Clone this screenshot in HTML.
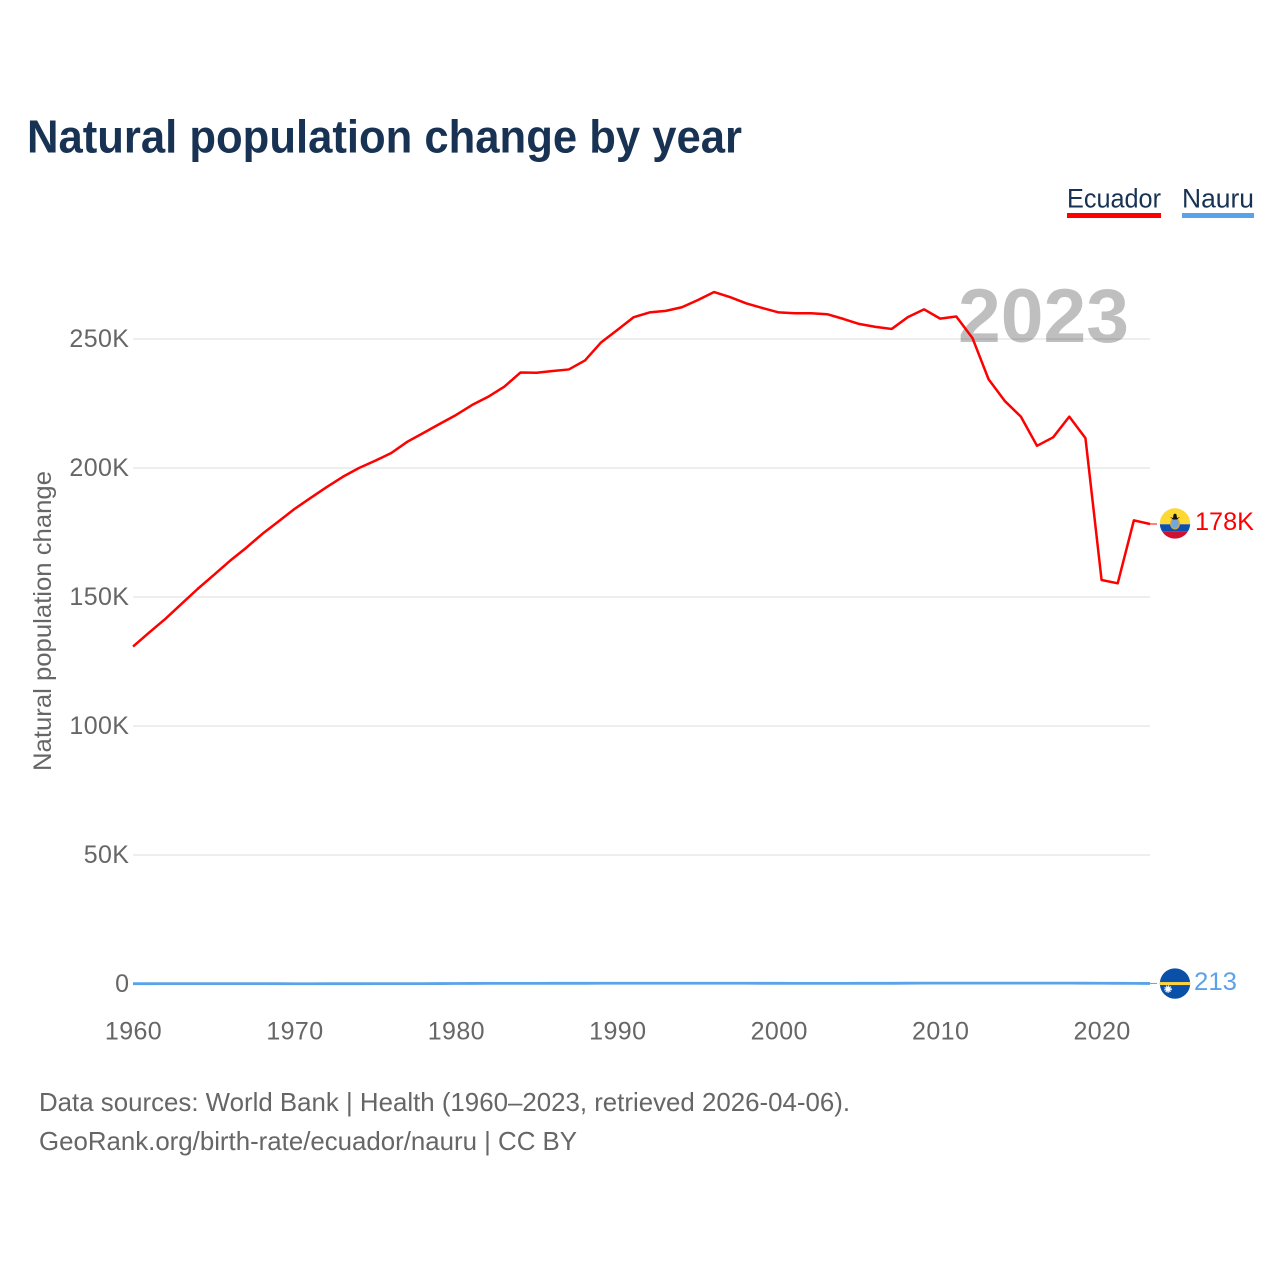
<!DOCTYPE html>
<html lang="en">
<head>
<meta charset="utf-8">
<title>Natural population change by year</title>
<style>
html,body{margin:0;padding:0;background:#fff;}
svg{display:block;font-family:"Liberation Sans",Arial,sans-serif;}
.tick{font-size:25px;fill:#666;letter-spacing:.4px;}
.foot{font-size:26px;fill:#666;}
</style>
</head>
<body>
<svg id="chart" width="1280" height="1280" viewBox="0 0 1280 1280" xmlns="http://www.w3.org/2000/svg">
  <rect width="1280" height="1280" fill="#fff"/>
  <text x="27" y="152.6" font-size="46" font-weight="700" fill="#173253" textLength="715" lengthAdjust="spacingAndGlyphs">Natural population change by year</text>

  <g>
    <text x="1067" y="207.6" font-size="27" fill="#173253" textLength="94" lengthAdjust="spacingAndGlyphs">Ecuador</text>
    <rect x="1067" y="213" width="94" height="5" fill="#ff0000"/>
  </g>
  <g>
    <text x="1182" y="207.6" font-size="27" fill="#173253" textLength="72" lengthAdjust="spacingAndGlyphs">Nauru</text>
    <rect x="1182" y="213" width="72" height="5" fill="#5ba3e8"/>
  </g>

  <g id="grid"></g>
  <text x="958" y="342" font-size="76" font-weight="700" fill="rgba(0,0,0,.25)" textLength="171" lengthAdjust="spacingAndGlyphs">2023</text>
  <g id="yticks"></g>
  <g id="xticks"></g>
  <text transform="translate(51,621) rotate(-90)" text-anchor="middle" font-size="25" fill="#666" textLength="300" lengthAdjust="spacingAndGlyphs">Natural population change</text>
  <g id="series"></g>

  <defs>
    <clipPath id="flag-clip"><circle cx="0" cy="0" r="15.2"/></clipPath>
  </defs>
  <g id="flag-ecuador" clip-path="url(#flag-clip)">
    <rect x="-16" y="-16" width="32" height="16.8" fill="#fdd835"/>
    <rect x="-16" y="0.8" width="32" height="7" fill="#0a4fb0"/>
    <rect x="-16" y="7.8" width="32" height="9" fill="#d01030"/>
    <ellipse cx="0" cy="0" rx="5" ry="6" fill="#d9a93a"/>
    <ellipse cx="0" cy="0" rx="3.6" ry="5" fill="#6fa8e0"/>
    <polygon points="-5,-6.5 -2,-5.5 -1.5,-9 0,-10 1.5,-9 2,-5.5 5,-6.5 2,-4 -2,-4" fill="#111"/>
  </g>
  <g id="flag-nauru" clip-path="url(#flag-clip)">
    <rect x="-16" y="-16" width="32" height="32" fill="#0a4fa8"/>
    <rect x="-16" y="-1.5" width="32" height="3" fill="#ffd23f"/>
    <circle cx="-7" cy="5.5" r="2.6" fill="#fff"/>
    <circle cx="-7" cy="5.5" r="3.2" fill="none" stroke="#fff" stroke-width="1.2" stroke-dasharray="1.2 0.9"/>
  </g>

  <text class="foot" x="39" y="1111" textLength="811" lengthAdjust="spacingAndGlyphs">Data sources: World Bank | Health (1960–2023, retrieved 2026-04-06).</text>
  <text class="foot" x="39" y="1150" textLength="538" lengthAdjust="spacingAndGlyphs">GeoRank.org/birth-rate/ecuador/nauru | CC BY</text>
</svg>
<script>
const startYear = 1960;
const ecuadorValues = [130.8,136.2,141.5,147.3,153.1,158.5,164.0,169.0,174.4,179.2,
  184.1,188.4,192.6,196.6,200.0,202.8,205.8,210.2,213.6,217.1,
  220.5,224.4,227.6,231.5,237.0,236.9,237.6,238.2,241.7,248.7,
  253.5,258.4,260.3,260.9,262.3,265.1,268.2,266.2,263.8,262.0,
  260.3,260.0,260.0,259.6,257.8,255.8,254.7,253.9,258.5,261.5,
  257.9,258.7,250.4,234.4,226.0,219.9,208.6,211.9,219.9,211.6,
  156.6,155.3,179.7,178.3];
const nauruValues = [0.12,0.12,0.13,0.13,0.14,0.15,0.15,0.15,0.14,0.12,
  0.11,0.11,0.12,0.12,0.12,0.13,0.13,0.13,0.14,0.17,
  0.2,0.22,0.23,0.24,0.25,0.25,0.26,0.26,0.27,0.28,
  0.29,0.3,0.3,0.3,0.3,0.3,0.29,0.29,0.28,0.27,
  0.26,0.25,0.25,0.25,0.25,0.26,0.26,0.27,0.31,0.33,
  0.34,0.34,0.35,0.35,0.35,0.35,0.34,0.34,0.33,0.32,
  0.3,0.26,0.23,0.213];
const yTickValues = [0,50,100,150,200,250];
const yTickLabels = ['0','50K','100K','150K','200K','250K'];
const xTickYears = [1960,1970,1980,1990,2000,2010,2020];

const NS = 'http://www.w3.org/2000/svg';
function x(year){ return 133 + (year - 1960) * 16.143; }
function y(v){ return 984 - v * 2.58; }
function fmt(v){ return v >= 1 ? Math.round(v) + 'K' : String(Math.round(v * 1000)); }
function make(tag, parent, attrs, text){
  const el = document.createElementNS(NS, tag);
  for (const k in attrs) el.setAttribute(k, attrs[k]);
  if (text !== undefined) el.textContent = text;
  parent.appendChild(el);
  return el;
}
const grid = document.getElementById('grid');
const yticks = document.getElementById('yticks');
const xticks = document.getElementById('xticks');
const series = document.getElementById('series');
const chart = document.getElementById('chart');

yTickValues.forEach(function(v, i){
  if (v !== 0) {
    const line = make('line', grid, {x1:133, x2:1150, y1:y(v), y2:y(v), stroke:'#e8e8e8', 'stroke-width':1.5});
    
    
  }
  const label = make('text', yticks, {x:129.4, y:y(v) + 7.8, 'text-anchor':'end', class:'tick'}, yTickLabels[i]);
  
  
});
xTickYears.forEach(function(yr){
  const label = make('text', xticks, {x:x(yr) + 0.5, y:1039.6, 'text-anchor':'middle', class:'tick'}, String(yr));
  
  
});

function pointsOf(values){
  return values.map(function(v, i){ return x(startYear + i).toFixed(2) + ',' + y(v).toFixed(2); }).join(' ');
}
const lineEcuador = make('polyline', series, {points:pointsOf(ecuadorValues), fill:'none', stroke:'#ff0000', 'stroke-width':2.5, 'stroke-linejoin':'round'});


const lineNauru = make('polyline', series, {points:pointsOf(nauruValues), fill:'none', stroke:'#5ba3e8', 'stroke-width':2.8, 'stroke-linejoin':'round'});



const lastE = ecuadorValues[ecuadorValues.length - 1];
const lastN = nauruValues[nauruValues.length - 1];
const endX = x(startYear + ecuadorValues.length - 1);

const leaderE = make('line', series, {x1:endX - 2, x2:1157, y1:y(lastE), y2:y(lastE), stroke:'#ff0000', 'stroke-width':1});


const leaderN = make('line', series, {x1:endX - 2, x2:1157, y1:y(lastN), y2:y(lastN), stroke:'#5ba3e8', 'stroke-width':1});



document.getElementById('flag-ecuador').setAttribute('transform', 'translate(1175,' + (y(lastE) - 0.5) + ')');
document.getElementById('flag-nauru').setAttribute('transform', 'translate(1175,' + (y(lastN) + 0.1) + ')');

const valueE = make('text', chart, {x:1195, y:y(lastE) + 5.8, 'font-size':25, fill:'#ff0000', textLength:59, lengthAdjust:'spacingAndGlyphs'}, fmt(lastE));


const valueN = make('text', chart, {x:1194, y:y(lastN) + 6.3, 'font-size':25, fill:'#5ba3e8', textLength:43, lengthAdjust:'spacingAndGlyphs'}, fmt(lastN));


</script>
</body>
</html>
